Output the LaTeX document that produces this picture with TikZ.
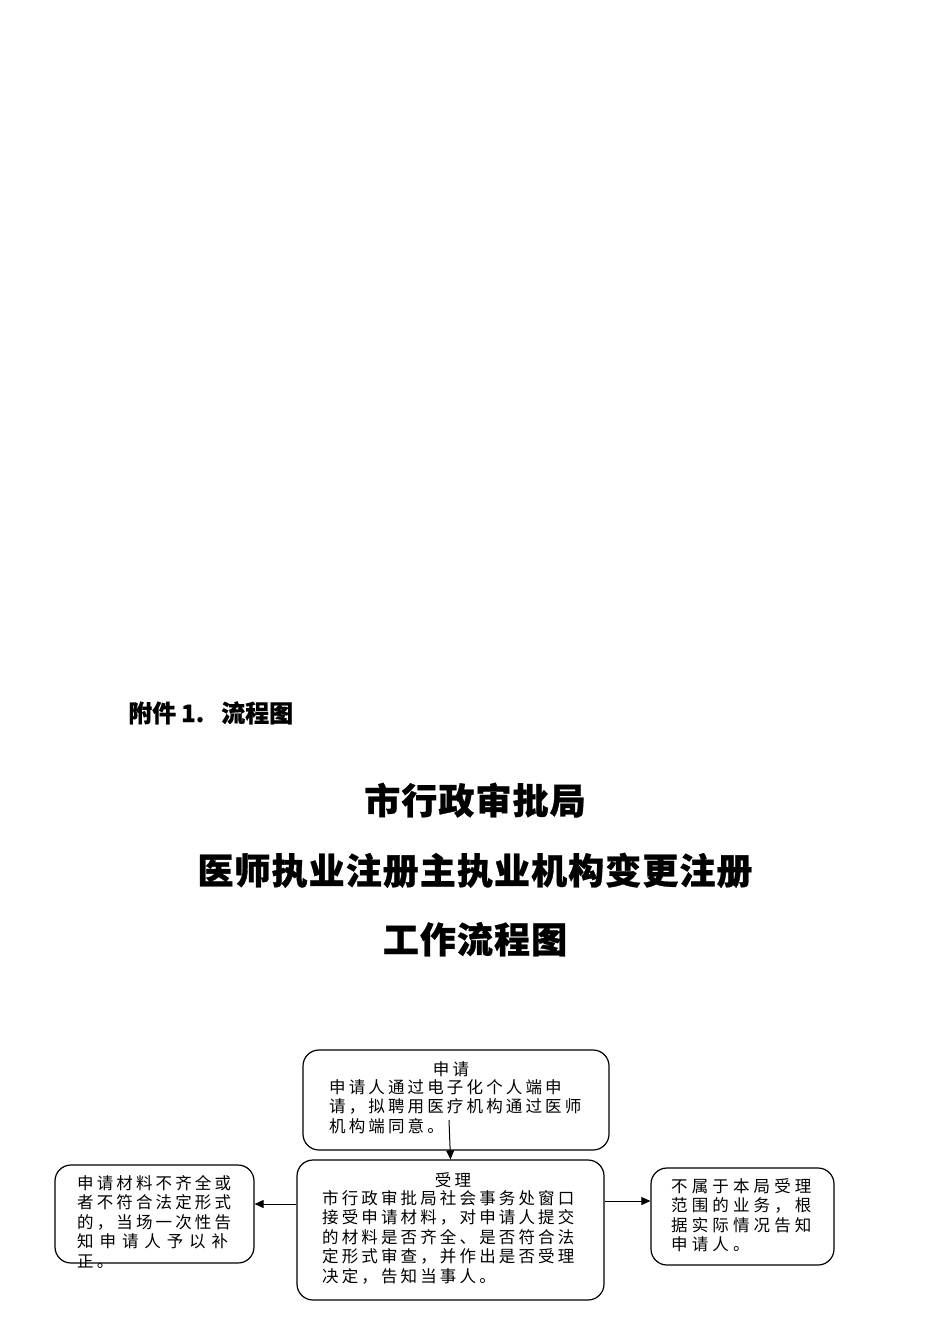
\documentclass[tikz,border=0pt]{standalone}
\usepackage{fontspec}
\usetikzlibrary{arrows.meta}
\newfontfamily\cjk{Noto Sans CJK SC}[BoldFeatures={FakeBold=0.6}]
\newfontfamily\bodyA[LetterSpace=19]{Noto Sans CJK SC}
\newfontfamily\bodyB[LetterSpace=25]{Noto Sans CJK SC}
\newfontfamily\ttlfont[LetterSpace=3,BoldFeatures={FakeBold=0.8}]{Noto Sans CJK SC}
\newlength\jl
\begin{document}
\begin{tikzpicture}[x=1pt,y=-1pt,
  box/.style={draw, line width=1.2pt, rounded corners=16pt, inner sep=0pt},
  txt/.style={anchor=north west, inner sep=0pt, align=left, font=\bodyA\fontsize{16.5}{19.5}\selectfont},
  txtB/.style={anchor=north west, inner sep=0pt, align=left, font=\bodyB\fontsize{16.5}{19.5}\selectfont},
  hd/.style={anchor=base, inner sep=0pt, font=\bodyA\fontsize{16.5}{19.5}\selectfont},
  ttl/.style={anchor=base, inner sep=0pt, font=\ttlfont\bfseries\fontsize{36}{40}\selectfont},
  arr/.style={-{Triangle[length=9pt,width=8pt]}, line width=1pt}]
\useasboundingbox (0,0) rectangle (950,1344);
\fill[white] (0,0) rectangle (950,1344);
% header and titles
\node[anchor=base west, inner sep=0pt, font=\cjk\bfseries\fontsize{24}{28}\selectfont] (hdr) at (128,722) {附件\hspace{5pt}1.\hspace{17pt}流程图};
\node[ttl] (t1) at (475,814) {市行政审批局};
\node[ttl] (t2) at (475,884) {医师执业注册主执业机构变更注册};
\node[ttl] (t3) at (475,953) {工作流程图};
% boxes
\node[box, minimum width=306pt, minimum height=100pt] (b1) at (456,1100) {};
\node[box, minimum width=307pt, minimum height=140pt] (b2) at (450.5,1230) {};
\node[box, minimum width=199pt, minimum height=98pt] (b3) at (154.5,1214) {};
\node[box, minimum width=183pt, minimum height=97pt] (b4) at (742.5,1216.5) {};
% texts
\node[hd] (h1) at (451,1075) {申请};
\node[txt] (x1) at (329,1079) {申请人通过电子化个人端申\\请，拟聘用医疗机构通过医师\\机构端同意。};
\node[hd] (h2) at (453,1186) {受理};
\node[txt] (x2) at (322,1190) {市行政审批局社会事务处窗口\\接受申请材料，对申请人提交\\的材料是否齐全、是否符合法\\定形式审查，并作出是否受理\\决定，告知当事人。};
\node[txt] (x3) at (77,1175) {申请材料不齐全或\\者不符合法定形式\\的，当场一次性告\\\settowidth\jl{申请材料不齐全或}\makebox[\jl][s]{知\hfill 申\hfill 请\hfill 人\hfill 予\hfill 以\hfill 补\hspace{3pt}}\\正。};
\node[txtB] (x4) at (671,1178) {不属于本局受理\\范围的业务，根\\据实际情况告知\\申请人。};
% connectors
\coordinate (s1) at (449,1120);
\draw[arr] (s1) -- (b2.north);
\draw[arr] (b2.west |- 0,1204) -- (b3.east |- 0,1204);
\draw[arr] (b2.east |- 0,1201) -- (b4.west |- 0,1201);
\end{tikzpicture}
\end{document}
